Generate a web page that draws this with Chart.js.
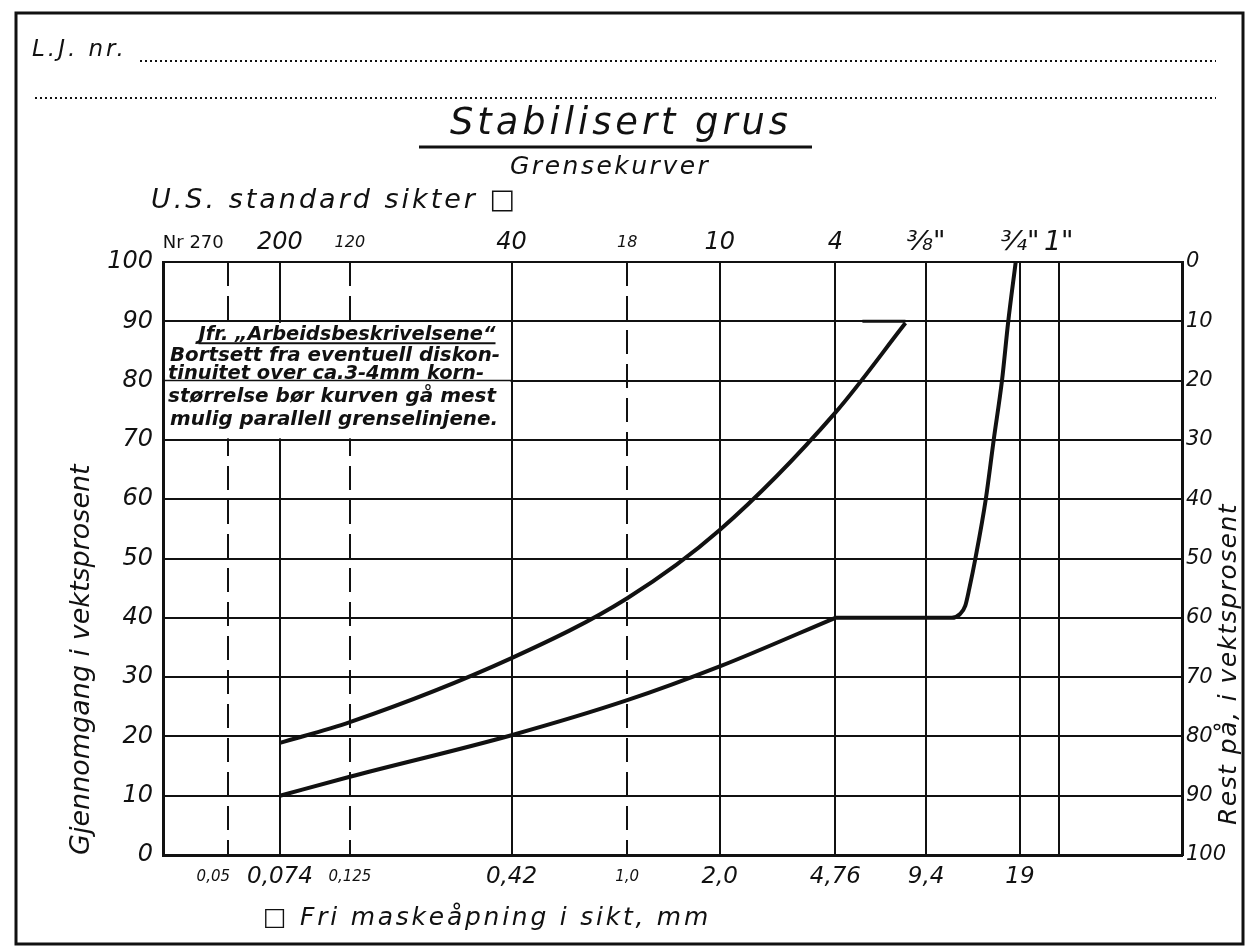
<!DOCTYPE html>
<html>
<head>
<meta charset="utf-8">
<script src="https://cdn.jsdelivr.net/npm/chart.js@4/dist/chart.umd.min.js"></script>
<style>
  html, body { margin: 0; padding: 0; background: #fff; }
  #chart { display: block; }
</style>
</head>
<body>
<canvas id="chart" width="1250" height="949"></canvas>
<script>
// sieve openings (mm) with their labels
const sieveMm = [0.05, 0.074, 0.125, 0.42, 1.0, 2.0, 4.76, 9.4, 19, 25.4]
const mmLabels = ['0,05', '0,074', '0,125', '0,42', '1,0', '2,0', '4,76', '9,4', '19', '']
const sieveNr = ['Nr 270', '200', '120', '40', '18', '10', '4', '⅜"', '¾"', '1"']
const dashedMm = [0.05, 0.125, 1.0]
const passTicks = [0, 10, 20, 30, 40, 50, 60, 70, 80, 90, 100]

// upper (fine) limit curve
const fineMm = [0.074, 0.125, 0.42, 1.0, 2.0, 4.76, 8.05]
const finePass = [18.9, 22.4, 33.2, 43.3, 54.8, 74.6, 89.7]
// short stroke closing the upper curve at 90 %
const fineTopMm = [5.83, 8.05]
const fineTopPass = [90, 90]

// lower (coarse) limit curve
const coarseMm = [0.074, 0.125, 0.42, 1.0, 2.0, 4.76, 11.4, 12.1, 12.6, 13.0, 13.6, 14.7, 15.6, 16.6, 17.4, 18.4]
const coarsePass = [10, 13.2, 20.2, 26.1, 31.8, 40, 40, 40.6, 42, 45, 50, 60, 70, 80, 90, 100]

const noteLines = [
    'Jfr. „Arbeidsbeskrivelsene“',
    'Bortsett fra eventuell diskon-',
    'tinuitet over ca.3-4mm korn-',
    'størrelse bør kurven gå mest',
    'mulig parallell grenselinjene.',
]

const FONT = '"DejaVu Sans", sans-serif'
const INK = '#111'

function pts(xs, ys) {
    return xs.map((v, i) => ({ x: v, y: ys[i] }))
}

function isDashed(v) {
    return dashedMm.includes(v)
}

// the coarse curve breaks sharply where it reaches the 40 % plateau
const coarseBreak = coarsePass.indexOf(40)

function spaced(c, text, x, y, spacing, maxW) {
    c.letterSpacing = spacing + 'px'
    c.fillText(text, x, y, maxW)
    c.letterSpacing = '0px'
}

const paper = {
    id: 'paper',
    beforeDraw(chart) {
        const c = chart.ctx
        c.save()
        c.fillStyle = '#fff'
        c.fillRect(0, 0, chart.width, chart.height)
        c.restore()
    },
    beforeDatasetsDraw(chart) {
        // the note box hides the grid between 90 and 70
        const { ctx, chartArea: a, scales } = chart
        const x1 = scales.x.getPixelForValue(0.42)
        const top = scales.y.getPixelForValue(90)
        const bot = scales.y.getPixelForValue(70)
        const y80 = scales.y.getPixelForValue(80)
        ctx.save()
        ctx.fillStyle = '#fff'
        ctx.fillRect(a.left + 2, top + 1.5, x1 - a.left - 3, bot - top - 3)
        ctx.strokeStyle = INK
        ctx.lineWidth = 1.5
        ctx.beginPath()
        ctx.moveTo(a.left, y80)
        ctx.lineTo(x1, y80)
        ctx.stroke()

        ctx.fillStyle = INK
        ctx.font = 'italic bold 20px ' + FONT
        ctx.textBaseline = 'alphabetic'
        ctx.textAlign = 'center'
        const cx = 347
        ctx.fillText(noteLines[0], cx, top + 19, 297)
        const w0 = Math.min(ctx.measureText(noteLines[0]).width, 297)
        ctx.lineWidth = 2
        ctx.beginPath()
        ctx.moveTo(cx - w0 / 2, top + 22)
        ctx.lineTo(cx + w0 / 2, top + 22)
        ctx.stroke()
        ctx.textAlign = 'left'
        ctx.fillText(noteLines[1], a.left + 7, top + 40, 330)
        ctx.fillText(noteLines[2], a.left + 5, y80 - 2, 316)
        ctx.fillText(noteLines[3], a.left + 5, top + 81, 328)
        ctx.fillText(noteLines[4], a.left + 7, top + 104, 328)
        ctx.restore()
    },
    afterDraw(chart) {
        const c = chart.ctx
        c.save()
        c.fillStyle = INK
        c.strokeStyle = INK

        // frame
        c.lineWidth = 3
        c.strokeRect(16, 13, 1227, 931)

        // form header
        c.font = 'italic 23px ' + FONT
        c.textAlign = 'left'
        spaced(c, 'L.J. nr.', 32, 56, 3, 102)
        c.lineWidth = 2
        c.setLineDash([2, 3])
        c.beginPath()
        c.moveTo(140, 61)
        c.lineTo(1216, 61)
        c.moveTo(35, 98)
        c.lineTo(1216, 98)
        c.stroke()
        c.setLineDash([])

        // titles
        c.font = 'italic 37px ' + FONT
        spaced(c, 'Stabilisert grus', 450, 134, 4, 342)
        c.lineWidth = 3
        c.beginPath()
        c.moveTo(419, 147)
        c.lineTo(812, 147)
        c.stroke()
        c.font = 'italic 25px ' + FONT
        spaced(c, 'Grensekurver', 510, 174, 2.5, 214)

        c.font = 'italic 27px ' + FONT
        spaced(c, 'U.S. standard sikter □', 151, 208, 3, 375)

        c.font = 'italic 25px ' + FONT
        spaced(c, '□ Fri maskeåpning i sikt, mm', 263, 925, 2.8, 448)

        // right axis title
        c.translate(1236, 825)
        c.rotate(-Math.PI / 2)
        c.font = 'italic 25px ' + FONT
        spaced(c, 'Rest på, i vektsprosent', 0, 0, 1.5, 322)
        c.restore()
    },
}

function render_chart() {
    Chart.defaults.font.family = FONT
    Chart.defaults.color = INK

    const logRange = { min: 0.0308, max: 64 }
    const curve = {
        borderColor: INK,
        borderWidth: 4,
        pointRadius: 0,
        showLine: true,
        cubicInterpolationMode: 'monotone',
    }

    const data = {
        datasets: [
            {
                ...curve,
                label: 'Øvre grensekurve',
                data: pts(fineMm, finePass),
            },
            {
                ...curve,
                borderWidth: 3,
                label: 'Øvre grensekurve (endestrek)',
                data: pts(fineTopMm, fineTopPass),
            },
            {
                ...curve,
                label: 'Nedre grensekurve',
                data: pts(coarseMm.slice(0, coarseBreak + 1), coarsePass.slice(0, coarseBreak + 1)),
            },
            {
                ...curve,
                label: 'Nedre grensekurve (grov del)',
                data: pts(coarseMm.slice(coarseBreak), coarsePass.slice(coarseBreak)),
            },
        ],
    }

    const config = {
        type: 'scatter',
        data: data,
        plugins: [paper],
        options: {
            responsive: false,
            animation: false,
            devicePixelRatio: 1,
            layout: { padding: 0 },
            plugins: { legend: { display: false }, tooltip: { enabled: false } },
            scales: {
                x: {
                    type: 'logarithmic',
                    position: 'bottom',
                    min: logRange.min,
                    max: logRange.max,
                    afterBuildTicks: (s) => { s.ticks = sieveMm.map((v) => ({ value: v })) },
                    afterFit: (s) => { s.height = 94 },
                    grid: {
                        color: (c) => (c.tick && isDashed(c.tick.value) ? 'rgba(0,0,0,0)' : INK),
                        lineWidth: 2,
                        drawTicks: false,
                    },
                    border: { display: true, color: INK, width: 3 },
                    ticks: {
                        autoSkip: false,
                        minRotation: 0,
                        maxRotation: 0,
                        padding: 10,
                        color: INK,
                        font: (c) => ({
                            size: c.tick && isDashed(c.tick.value) ? 15 : 23,
                            style: 'italic',
                            lineHeight: '24px',
                        }),
                        callback: (v, i) => (i === 0 ? mmLabels[i] + '\u2007\u2007\u2007' : mmLabels[i]),
                    },
                },
                xTop: {
                    type: 'logarithmic',
                    position: 'top',
                    min: logRange.min,
                    max: logRange.max,
                    afterBuildTicks: (s) => { s.ticks = sieveMm.map((v) => ({ value: v })) },
                    afterFit: (s) => { s.height = 262 },
                    grid: {
                        color: (c) => (c.tick && isDashed(c.tick.value) ? INK : 'rgba(0,0,0,0)'),
                        lineWidth: 2,
                        drawTicks: false,
                    },
                    border: { display: false, dash: [24, 10] },
                    ticks: {
                        autoSkip: false,
                        minRotation: 0,
                        maxRotation: 0,
                        padding: 5,
                        color: INK,
                        font: (c) => ({
                            size: c.index === 0 ? 18 : (c.tick && isDashed(c.tick.value) ? 16 : (c.index >= 7 ? 27 : 24)),
                            style: c.index === 0 ? 'normal' : 'italic',
                            lineHeight: '28px',
                        }),
                        callback: (v, i) => (i === 0 ? sieveNr[i] + '\u2007'.repeat(6) : sieveNr[i]),
                    },
                },
                y: {
                    position: 'left',
                    min: 0,
                    max: 100,
                    afterBuildTicks: (s) => { s.ticks = passTicks.map((v) => ({ value: v })) },
                    afterFit: (s) => { s.width = 163 },
                    grid: { color: INK, lineWidth: 2, drawTicks: false },
                    border: { display: true, color: INK, width: 3 },
                    ticks: {
                        padding: 10,
                        color: INK,
                        font: { size: 24, style: 'italic' },
                        callback: (v) => String(v),
                    },
                    title: {
                        display: true,
                        text: 'Gjennomgang i vektsprosent',
                        align: 'start',
                        color: INK,
                        font: { size: 27, style: 'italic' },
                        padding: { top: 66, bottom: 0 },
                    },
                },
                y2: {
                    position: 'right',
                    reverse: true,
                    min: 0,
                    max: 100,
                    afterBuildTicks: (s) => { s.ticks = passTicks.map((v) => ({ value: v })) },
                    afterFit: (s) => { s.width = 68 },
                    grid: { drawOnChartArea: false, drawTicks: false },
                    border: { display: true, color: INK, width: 3 },
                    ticks: {
                        padding: 4,
                        color: INK,
                        font: { size: 21, style: 'italic' },
                        callback: (v) => String(v),
                    },
                },
            },
        },
    }
    const myChart = new Chart(document.getElementById('chart'), config)
}
document.addEventListener('DOMContentLoaded', render_chart)
</script>
</body>
</html>
